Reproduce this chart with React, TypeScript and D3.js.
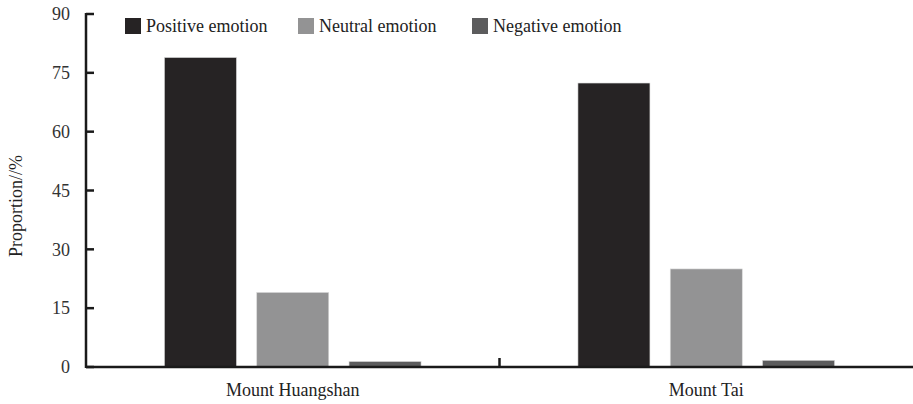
import { useMemo } from 'react';
import * as d3 from 'd3';

const categories = ['Mount Huangshan', 'Mount Tai'];
const seriesNames = ['Positive emotion', 'Neutral emotion', 'Negative emotion'];
const positiveValues = [78.9, 72.4];
const neutralValues = [19.0, 25.0];
const negativeValues = [1.4, 1.7];
const yTicks = [0, 15, 30, 45, 60, 75, 90];

const seriesColors = ['#262324', '#939394', '#5c5c5d'];
const textStyle = { fontFamily: "'Liberation Serif'" };

const W = 913;
const H = 404;
const margin = { top: 14, right: 0, bottom: 37, left: 86 };

export default function App() {
  const values = [positiveValues, neutralValues, negativeValues];

  const x = useMemo(
    () => d3.scaleBand<string>().domain(categories).range([margin.left, W - margin.right]).padding(0),
    []
  );
  const xSub = useMemo(
    () =>
      d3
        .scaleBand<string>()
        .domain(seriesNames)
        .range([0, x.bandwidth()])
        .paddingInner(0.22)
        .paddingOuter(0.85),
    [x]
  );
  const y = useMemo(
    () => d3.scaleLinear().domain([0, 90]).range([H - margin.bottom, margin.top]),
    []
  );

  const y0 = y(0);

  return (
    <svg width={W} height={H} style={{ position: 'absolute', left: 0, top: 0, background: '#fff' }}>
      {/* Bars */}
      <g>
        {categories.map((cat, ci) =>
          seriesNames.map((s, si) => {
            const v = values[si][ci];
            const bx = (x(cat) ?? 0) + (xSub(s) ?? 0);
            return (
              <rect
                key={`${cat}-${s}`}
                x={bx}
                y={y(v)}
                width={xSub.bandwidth()}
                height={y0 - y(v)}
                fill={seriesColors[si]}
                stroke="#d8d8d8"
                strokeWidth={0.6}
              />
            );
          })
        )}
      </g>

      {/* Y axis */}
      <line x1={margin.left} x2={margin.left} y1={y(90) - 1} y2={y0 + 1} stroke="#1a1a1a" strokeWidth={2.5} />
      {yTicks.map((t) => (
        <g key={t}>
          <line x1={margin.left} x2={margin.left + 8} y1={y(t)} y2={y(t)} stroke="#1a1a1a" strokeWidth={2.5} />
          <text x={70} y={y(t)} dy="0.35em" textAnchor="end" fontSize={18} fill="#333" style={textStyle}>
            {t}
          </text>
        </g>
      ))}

      {/* X axis */}
      <line x1={margin.left} x2={W} y1={y0} y2={y0} stroke="#1a1a1a" strokeWidth={2.5} />
      <line
        x1={x(categories[1])}
        x2={x(categories[1])}
        y1={y0}
        y2={y0 - 9}
        stroke="#1a1a1a"
        strokeWidth={2.5}
      />
      {categories.map((cat) => (
        <text
          key={cat}
          x={(x(cat) ?? 0) + x.bandwidth() / 2}
          y={396}
          textAnchor="middle"
          fontSize={18}
          fill="#222"
          style={textStyle}
        >
          {cat}
        </text>
      ))}

      {/* Y title */}
      <text
        transform={`translate(22, ${206}) rotate(-90)`}
        textAnchor="middle"
        fontSize={18}
        fill="#222"
        style={textStyle}
      >
        Proportion//%
      </text>

      {/* Legend */}
      {seriesNames.map((s, i) => {
        const lx = [125, 298, 472][i];
        return (
          <g key={s} transform={`translate(${lx}, 18)`}>
            <rect width={16} height={16} fill={seriesColors[i]} />
            <text x={21} y={14} fontSize={18} fill="#222" style={textStyle}>
              {s}
            </text>
          </g>
        );
      })}
    </svg>
  );
}
